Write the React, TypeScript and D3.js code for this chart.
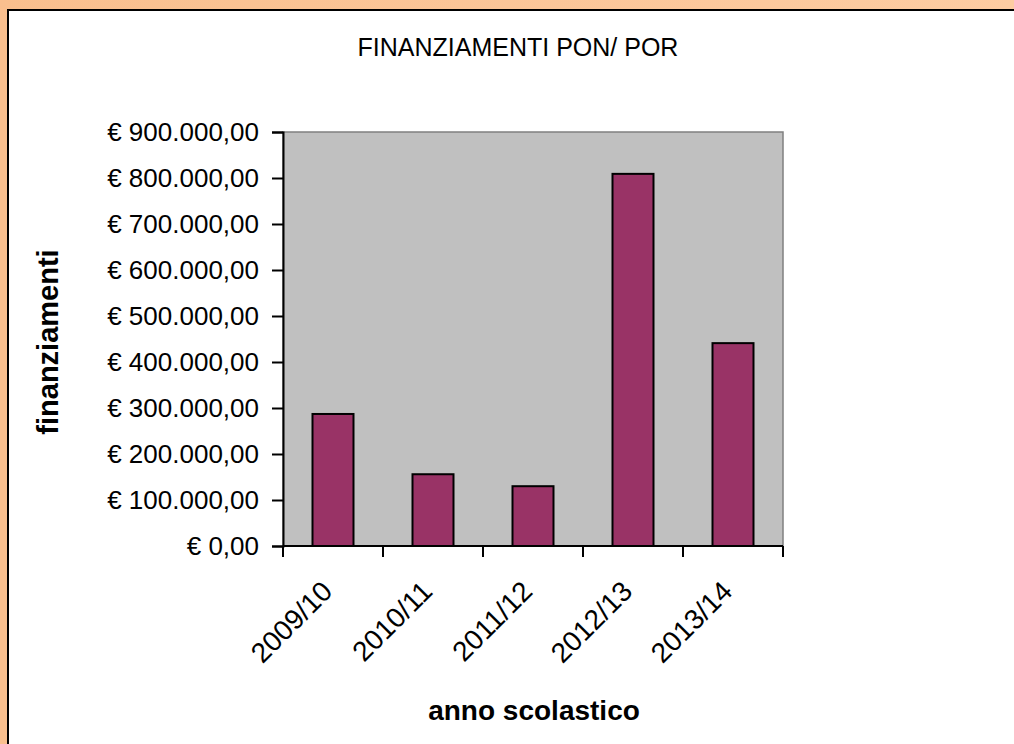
import * as d3 from "d3";
import { useEffect, useRef } from "react";

const categories = ["2009/10", "2010/11", "2011/12", "2012/13", "2013/14"];
const finanziamenti = [287000, 156000, 130000, 809000, 441000];
const yTicks = [0, 100000, 200000, 300000, 400000, 500000, 600000, 700000, 800000, 900000];

export default function App() {
  const ref = useRef<SVGSVGElement | null>(null);

  useEffect(() => {
    if (!ref.current) return;
    const width = 1014;
    const height = 744;
    const plot = { left: 283, top: 132, right: 783, bottom: 546 };
    const font = "Arial, 'Liberation Sans', sans-serif";

    const svg = d3.select(ref.current);
    svg.selectAll("*").remove();

    // frame
    const grad = svg.append("defs").append("linearGradient").attr("id", "bg");
    grad.append("stop").attr("offset", "0%").attr("stop-color", "#f9bf8e");
    grad.append("stop").attr("offset", "100%").attr("stop-color", "#fdcca2");
    svg.append("rect").attr("width", width).attr("height", height).attr("fill", "url(#bg)");
    svg
      .append("rect")
      .attr("x", 8)
      .attr("y", 10)
      .attr("width", width + 20)
      .attr("height", height + 20)
      .attr("fill", "#fff")
      .attr("stroke", "#000")
      .attr("stroke-width", 2);

    const x = d3
      .scaleBand()
      .domain(categories)
      .range([plot.left, plot.right])
      .paddingInner(0.59)
      .paddingOuter(0.295);

    const y = d3.scaleLinear().domain([0, 900000]).range([plot.bottom, plot.top]);

    const locale = d3.formatLocale({
      decimal: ",",
      thousands: ".",
      grouping: [3],
      currency: ["€ ", ""],
    });
    const fmt = locale.format("$,.2f");

    // plot area
    svg
      .append("rect")
      .attr("x", plot.left)
      .attr("y", plot.top)
      .attr("width", plot.right - plot.left)
      .attr("height", plot.bottom - plot.top)
      .attr("fill", "#c0c0c0")
      .attr("stroke", "#808080")
      .attr("stroke-width", 1.5);

    // bars
    svg
      .append("g")
      .selectAll("rect")
      .data(finanziamenti)
      .join("rect")
      .attr("x", (_, i) => x(categories[i])!)
      .attr("y", (d) => y(d))
      .attr("width", x.bandwidth())
      .attr("height", (d) => y(0) - y(d))
      .attr("fill", "#993366")
      .attr("stroke", "#000")
      .attr("stroke-width", 2);

    // y axis
    const gy = svg
      .append("g")
      .attr("transform", `translate(${plot.left},0)`)
      .call(d3.axisLeft(y).tickValues(yTicks).tickFormat((d) => fmt(+d)).tickSize(11).tickPadding(13));
    gy.select(".domain").attr("stroke", "#000").attr("stroke-width", 2);
    gy.selectAll(".tick line").attr("stroke", "#000").attr("stroke-width", 2);
    gy.selectAll(".tick text")
      .attr("font-family", font)
      .attr("font-size", 26)
      .attr("fill", "#000");

    // x axis
    const step = x.step();
    const gx = svg.append("g").attr("transform", `translate(0,${plot.bottom})`);
    gx.append("line")
      .attr("x1", plot.left)
      .attr("x2", plot.right)
      .attr("stroke", "#000")
      .attr("stroke-width", 2);
    gx.selectAll("line.tk")
      .data(d3.range(categories.length + 1))
      .join("line")
      .attr("class", "tk")
      .attr("x1", (i) => plot.left + i * step)
      .attr("x2", (i) => plot.left + i * step)
      .attr("y1", 0)
      .attr("y2", 11)
      .attr("stroke", "#000")
      .attr("stroke-width", 2);
    gx.selectAll("text")
      .data(categories)
      .join("text")
      .attr("transform", (d) => `translate(${x(d)! + x.bandwidth() / 2 + 1},47) rotate(-45)`)
      .attr("text-anchor", "end")
      .attr("font-family", font)
      .attr("font-size", 28)
      .attr("fill", "#000")
      .text((d) => d);

    // titles
    svg
      .append("text")
      .attr("x", 518)
      .attr("y", 56)
      .attr("text-anchor", "middle")
      .attr("font-family", font)
      .attr("font-size", 25)
      .text("FINANZIAMENTI PON/ POR");

    svg
      .append("text")
      .attr("x", 534)
      .attr("y", 720)
      .attr("text-anchor", "middle")
      .attr("font-family", font)
      .attr("font-size", 28)
      .attr("font-weight", "bold")
      .text("anno scolastico");

    svg
      .append("text")
      .attr("transform", "translate(58,342) rotate(-90)")
      .attr("text-anchor", "middle")
      .attr("font-family", font)
      .attr("font-size", 29)
      .attr("font-weight", "bold")
      .text("finanziamenti");
  }, []);

  return (
    <svg
      ref={ref}
      width={1014}
      height={744}
      style={{ position: "absolute", left: 0, top: 0, display: "block" }}
    ></svg>
  );
}
